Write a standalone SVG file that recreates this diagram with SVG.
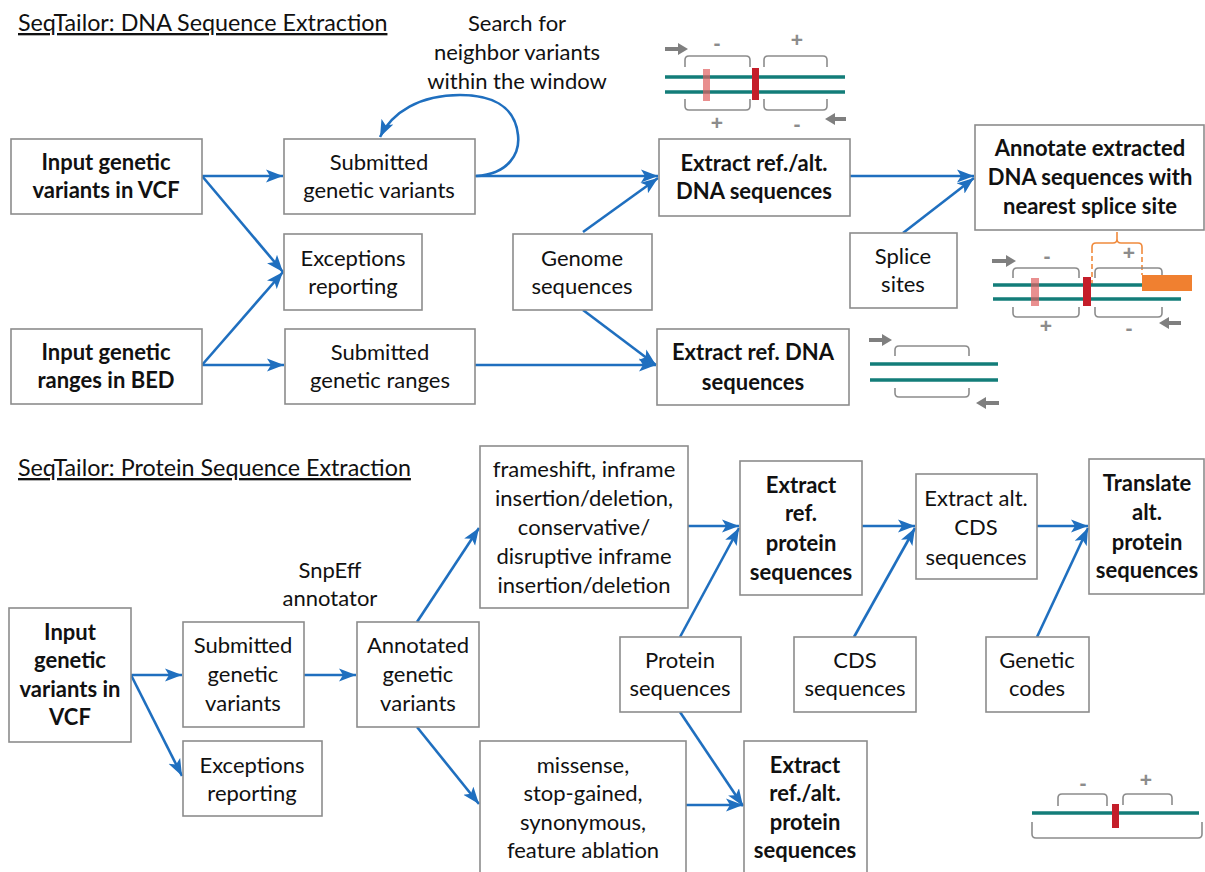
<svg xmlns="http://www.w3.org/2000/svg" width="1205" height="872" viewBox="0 0 1205 872">
<defs>
<style>
.box{fill:#fff;stroke:#8c8c8c;stroke-width:1.6}
.t{font-family:Lato,"Open Sans","Liberation Sans",sans-serif;font-size:22px;fill:#111;text-anchor:middle}
.b{font-weight:bold}
.title{font-family:Lato,"Open Sans","Liberation Sans",sans-serif;font-size:23.3px;fill:#111;text-decoration:underline}
.c{fill:none;stroke:#1f6fbf;stroke-width:2.6;marker-end:url(#ah)}
.dna{stroke:#137d79;stroke-width:3.5;fill:none}
.br{fill:none;stroke:#8c8c8c;stroke-width:1.6}
.sg{font-family:"Liberation Sans",Arial,sans-serif;font-weight:bold;font-size:21px;fill:#8c8c8c;text-anchor:middle}
.ga{fill:#7f7f7f}
</style>
<marker id="ah" markerUnits="userSpaceOnUse" markerWidth="18" markerHeight="14" refX="17" refY="7" orient="auto">
<path d="M0,0.5 L17,7 L0,13.5 L4,7 Z" fill="#1f6fbf"/>
</marker>
</defs>
<rect width="1205" height="872" fill="#fff"/>

<text class="title" x="18" y="31">SeqTailor: DNA Sequence Extraction</text>
<text class="title" x="18" y="476">SeqTailor: Protein Sequence Extraction</text>

<g id="loop-label"><text class="t" x="517" y="31">Search for</text><text class="t" x="517" y="60">neighbor variants</text><text class="t" x="517" y="89">within the window</text></g>
<g id="snpeff-label"><text class="t" x="330" y="578">SnpEff</text><text class="t" x="330" y="606">annotator</text></g>

<g id="connectors">
<path class="c" d="M202,176 L283,176"/>
<path class="c" d="M202,176 L283,272"/>
<path class="c" d="M202,365 L283,272"/>
<path class="c" d="M202,365 L284,365"/>
<path class="c" d="M475,176 L658,176"/>
<path class="c" d="M583,232 L658,178"/>
<path class="c" d="M583,310 L656,365"/>
<path class="c" d="M475,365 L656,365"/>
<path class="c" d="M850,176 L974,176"/>
<path class="c" d="M903,233 L974,178"/>
<path class="c" d="M476,176 C510,174 520,152 518,135 C515,105 490,95 460,95 C420,95 392,112 380,137"/>
<path class="c" d="M131,675 L182,675"/>
<path class="c" d="M131,675 L182,776"/>
<path class="c" d="M304,675 L356,675"/>
<path class="c" d="M417,622 L479,528"/>
<path class="c" d="M417,727 L479,804"/>
<path class="c" d="M688,526 L739,526"/>
<path class="c" d="M680,637 L739,528"/>
<path class="c" d="M862,526 L915,526"/>
<path class="c" d="M854,637 L915,528"/>
<path class="c" d="M1037,526 L1088,526"/>
<path class="c" d="M1037,637 L1088,528"/>
<path class="c" d="M680,712 L743,806"/>
<path class="c" d="M686,805 L743,805"/>
</g>

<g id="input-vcf"><rect class="box" x="11" y="139" width="191" height="75"/><text class="t b" x="106" y="170">Input genetic</text><text class="t b" x="106" y="198">variants in VCF</text></g>
<g id="submitted-variants"><rect class="box" x="284" y="139" width="191" height="75"/><text class="t" x="379" y="170">Submitted</text><text class="t" x="379" y="198">genetic variants</text></g>
<g id="exceptions-1"><rect class="box" x="284" y="234" width="138" height="76"/><text class="t" x="353" y="266">Exceptions</text><text class="t" x="353" y="294">reporting</text></g>
<g id="input-bed"><rect class="box" x="11" y="329" width="191" height="75"/><text class="t b" x="106" y="360">Input genetic</text><text class="t b" x="106" y="388">ranges in BED</text></g>
<g id="submitted-ranges"><rect class="box" x="285" y="329" width="190" height="75"/><text class="t" x="380" y="360">Submitted</text><text class="t" x="380" y="388">genetic ranges</text></g>
<g id="genome"><rect class="box" x="513" y="234" width="139" height="76"/><text class="t" x="582" y="266">Genome</text><text class="t" x="582" y="294">sequences</text></g>
<g id="extract-refalt-dna"><rect class="box" x="659" y="139" width="191" height="77"/><text class="t b" x="754" y="171">Extract ref./alt.</text><text class="t b" x="754" y="199">DNA sequences</text></g>
<g id="extract-ref-dna"><rect class="box" x="657" y="329" width="192" height="76"/><text class="t b" x="753" y="360">Extract ref. DNA</text><text class="t b" x="753" y="390">sequences</text></g>
<g id="splice"><rect class="box" x="850" y="233" width="107" height="75"/><text class="t" x="903" y="264">Splice</text><text class="t" x="903" y="292">sites</text></g>
<g id="annotate"><rect class="box" x="975" y="125" width="229" height="105"/><text class="t b" x="1090" y="156">Annotate extracted</text><text class="t b" x="1090" y="185">DNA sequences with</text><text class="t b" x="1090" y="214">nearest splice site</text></g>

<g id="input-vcf-2"><rect class="box" x="9" y="608" width="122" height="134"/><text class="t b" x="70" y="640">Input</text><text class="t b" x="70" y="668">genetic</text><text class="t b" x="70" y="697">variants in</text><text class="t b" x="70" y="725">VCF</text></g>
<g id="submitted-variants-2"><rect class="box" x="183" y="622" width="121" height="105"/><text class="t" x="243" y="653">Submitted</text><text class="t" x="243" y="682">genetic</text><text class="t" x="243" y="711">variants</text></g>
<g id="annotated"><rect class="box" x="357" y="622" width="122" height="105"/><text class="t" x="418" y="653">Annotated</text><text class="t" x="418" y="682">genetic</text><text class="t" x="418" y="711">variants</text></g>
<g id="exceptions-2"><rect class="box" x="183" y="741" width="139" height="75"/><text class="t" x="252" y="773">Exceptions</text><text class="t" x="252" y="801">reporting</text></g>
<g id="frameshift"><rect class="box" x="480" y="446" width="208" height="162"/><text class="t" x="584" y="477">frameshift, inframe</text><text class="t" x="584" y="506">insertion/deletion,</text><text class="t" x="584" y="535">conservative/</text><text class="t" x="584" y="564">disruptive inframe</text><text class="t" x="584" y="593">insertion/deletion</text></g>
<g id="extract-ref-protein"><rect class="box" x="740" y="461" width="122" height="134"/><text class="t b" x="801" y="493">Extract</text><text class="t b" x="801" y="521">ref.</text><text class="t b" x="801" y="551">protein</text><text class="t b" x="801" y="580">sequences</text></g>
<g id="extract-alt-cds"><rect class="box" x="916" y="474" width="121" height="105"/><text class="t" x="976" y="506">Extract alt.</text><text class="t" x="976" y="535">CDS</text><text class="t" x="976" y="565">sequences</text></g>
<g id="translate"><rect class="box" x="1089" y="459" width="115" height="135"/><text class="t b" x="1147" y="491">Translate</text><text class="t b" x="1147" y="520">alt.</text><text class="t b" x="1147" y="550">protein</text><text class="t b" x="1147" y="578">sequences</text></g>
<g id="protein-seq"><rect class="box" x="620" y="637" width="121" height="75"/><text class="t" x="680" y="668">Protein</text><text class="t" x="680" y="696">sequences</text></g>
<g id="cds-seq"><rect class="box" x="794" y="637" width="122" height="75"/><text class="t" x="855" y="668">CDS</text><text class="t" x="855" y="696">sequences</text></g>
<g id="genetic-codes"><rect class="box" x="986" y="637" width="103" height="75"/><text class="t" x="1037" y="668">Genetic</text><text class="t" x="1037" y="696">codes</text></g>
<g id="missense"><rect class="box" x="480" y="741" width="206" height="140"/><text class="t" x="583" y="773">missense,</text><text class="t" x="583" y="801">stop-gained,</text><text class="t" x="583" y="830">synonymous,</text><text class="t" x="583" y="858">feature ablation</text></g>
<g id="extract-refalt-protein"><rect class="box" x="744" y="741" width="123" height="140"/><text class="t b" x="805" y="773">Extract</text><text class="t b" x="805" y="801">ref./alt.</text><text class="t b" x="805" y="830">protein</text><text class="t b" x="805" y="858">sequences</text></g>

<g id="dna-refalt">
<path class="ga" d="M665,47 H678 V43 L688,49 L678,55 V51 H665 Z"/>
<path class="ga" d="M846,117 H835 V113 L825,119 L835,125 V121 H846 Z"/>
<text class="sg" x="717" y="50">-</text><text class="sg" x="797" y="47">+</text>
<path class="br" d="M685,67 V60 Q685,56 689,56 H746 Q750,56 750,60 V67"/>
<path class="br" d="M764,67 V60 Q764,56 768,56 H823 Q827,56 827,60 V67"/>
<path class="dna" d="M665,77 H845 M665,92 H845"/>
<rect x="703" y="69" width="7" height="32" fill="#e06060" opacity="0.7"/>
<rect x="752" y="68" width="7" height="32" fill="#c41e2a"/>
<path class="br" d="M685,99 V106 Q685,110 689,110 H746 Q750,110 750,106 V99"/>
<path class="br" d="M764,99 V106 Q764,110 768,110 H823 Q827,110 827,106 V99"/>
<text class="sg" x="717" y="130">+</text><text class="sg" x="797" y="131">-</text>
</g>

<g id="dna-ref">
<path class="ga" d="M869,338 H882 V334 L892,340 L882,346 V342 H869 Z"/>
<path class="ga" d="M999,401 H986 V397 L976,403 L986,409 V405 H999 Z"/>
<path class="br" d="M895,356 V350 Q895,346 899,346 H965 Q969,346 969,350 V356"/>
<path class="dna" d="M870,364 H998 M870,380 H998"/>
<path class="br" d="M895,388 V393 Q895,397 899,397 H965 Q969,397 969,393 V388"/>
</g>

<g id="dna-splice">
<path class="ga" d="M992,259 H1006 V255 L1016,261 L1006,267 V263 H992 Z"/>
<path class="ga" d="M1181,321 H1169 V317 L1159,323 L1169,329 V325 H1181 Z"/>
<text class="sg" x="1047" y="263">-</text><text class="sg" x="1129" y="260">+</text>
<path d="M1092,285 V249 M1142,249 V275" fill="none" stroke="#f08a3c" stroke-width="1.6" stroke-dasharray="5,3"/>
<path d="M1092,249 V247 Q1092,243 1096,243 H1113 Q1117,243 1117,239 V232 M1117,239 Q1117,243 1121,243 H1138 Q1142,243 1142,247 V249" fill="none" stroke="#f08a3c" stroke-width="1.6"/>
<path class="br" d="M1013,278 V272 Q1013,268 1017,268 H1075 Q1079,268 1079,272 V278"/>
<path class="br" d="M1095,278 V272 Q1095,268 1099,268 H1158 Q1162,268 1162,272 V278"/>
<path class="dna" d="M993,285 H1142 M993,299 H1181"/>
<rect x="1142" y="275" width="50" height="16" fill="#f08030"/>
<rect x="1031" y="278" width="8" height="28" fill="#e06060" opacity="0.7"/>
<rect x="1083" y="277" width="8" height="29" fill="#c41e2a"/>
<path class="br" d="M1013,307 V313 Q1013,317 1017,317 H1075 Q1079,317 1079,313 V307"/>
<path class="br" d="M1095,307 V313 Q1095,317 1099,317 H1158 Q1162,317 1162,313 V307"/>
<text class="sg" x="1046" y="333">+</text><text class="sg" x="1129" y="335">-</text>
</g>

<g id="protein-dna">
<text class="sg" x="1083" y="790">-</text><text class="sg" x="1146" y="787">+</text>
<path class="br" d="M1058,806 V798 Q1058,794 1062,794 H1103 Q1107,794 1107,798 V806"/>
<path class="br" d="M1123,805 V798 Q1123,794 1127,794 H1168 Q1172,794 1172,798 V805"/>
<path class="dna" d="M1032,813 H1199"/>
<rect x="1112" y="804" width="7" height="24" fill="#c41e2a"/>
<path class="br" d="M1032,822 V834 Q1032,838 1036,838 H1198 Q1202,838 1202,834 V822"/>
</g>
</svg>
